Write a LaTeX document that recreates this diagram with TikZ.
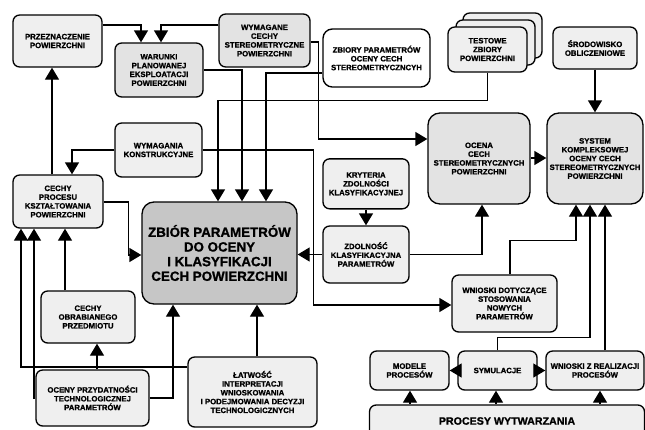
\documentclass[tikz,border=0pt]{standalone}
\usepackage{fontspec}
\setmainfont{Liberation Sans}[BoldFeatures={FakeBold=1.2}]
\usetikzlibrary{positioning,arrows.meta}
\definecolor{lightbox}{HTML}{EFEFEF}
\definecolor{midbox}{HTML}{E3E3E3}
\definecolor{mainbox}{HTML}{C6C6C6}
\tikzset{
    box/.style={draw,line width=1pt,rounded corners=5pt,fill=lightbox,align=center,
        inner sep=1pt,font=\fontsize{5.8}{6.6}\selectfont\bfseries},
    boxsize/.style 2 args={minimum width=#1*0.75pt,minimum height=#2*0.75pt},
    arr/.style={line width=1pt,-{Triangle[length=9pt,width=10.5pt]}}
}

\begin{document}
\begin{tikzpicture}[x=0.75pt,y=-0.75pt,on grid]
    \useasboundingbox (0,0) rectangle (645,429);
    \clip (0,0) rectangle (645,429);

    \node[box,boxsize={89}{52}] (przezn) at (57.5,41) {PRZEZNACZENIE\\POWIERZCHNI};
    \node[box,fill=midbox,boxsize={88}{54}] (warunki) at (159,70) {WARUNKI\\PLANOWANEJ\\EKSPLOATACJI\\POWIERZCHNI};
    \node[box,fill=midbox,boxsize={91}{53}] (wymagane) at (264.5,40.5) {WYMAGANE\\CECHY\\STEREOMETRYCZNE\\POWIERZCHNI};
    \node[box,fill=white,rounded corners=7pt,boxsize={107}{58}] (zbiory) at (376.5,58) {ZBIORY PARAMETRÓW\\OCENY CECH\\STEREOMETRYCZNCYH};
    \node[box,boxsize={79}{45}] (testowe3) at (502.5,35.5) {};
    \node[box,boxsize={79}{45}] (testowe2) at (495.5,42.5) {};
    \node[box,boxsize={79}{45}] (testowe) at (487.5,49.5) {TESTOWE\\ZBIORY\\POWIERZCHNI};
    \node[box,boxsize={84}{42}] (srodowisko) at (595,48) {ŚRODOWISKO\\OBLICZENIOWE};
    \node[box,boxsize={87}{54}] (konstr) at (158.5,150) {WYMAGANIA\\KONSTRUKCYJNE};
    \node[box,boxsize={90}{53}] (ksztalt) at (58,201.5) {CECHY\\PROCESU\\KSZTAŁTOWANIA\\POWIERZCHNI};
    \node[box,fill=mainbox,rounded corners=9pt,boxsize={155}{102},
        font=\fontsize{10}{11}\selectfont\bfseries] (zbior) at (219.5,253) {ZBIÓR PARAMETRÓW\\DO OCENY\\I KLASYFIKACJI\\CECH POWIERZCHNI};
    \node[box,fill=midbox,rounded corners=9pt,boxsize={102}{91}] (ocena) at (479,158.5) {OCENA\\CECH\\STEREOMETRYCZNYCH\\POWIERZCHNI};
    \node[box,fill=midbox,rounded corners=9pt,boxsize={96}{91}] (system) at (595,158.5) {SYSTEM\\KOMPLEKSOWEJ\\OCENY CECH\\STEREOMETRYCZNYCH\\POWIERZCHNI};
    \node[box,boxsize={86}{57}] (zdolnosc) at (366,254.5) {ZDOLNOŚĆ\\KLASYFIKACYJNA\\PARAMETRÓW};
    \node[box,boxsize={86}{50}] (kryteria) [above=53pt of zdolnosc] {KRYTERIA\\ZDOLNOŚCI\\KLASYFIKACYJNEJ};
    \node[box,boxsize={94}{52}] (obrab) at (88,317) {CECHY\\OBRABIANEGO\\PRZEDMIOTU};
    \node[box,boxsize={105}{57}] (wnioskid) at (504.5,303.5) {WNIOSKI DOTYCZĄCE\\STOSOWANIA\\NOWYCH\\PARAMETRÓW};
    \node[box,boxsize={129}{70}] (latwosc) at (252.5,392) {ŁATWOŚĆ\\INTERPRETACJI\\WNIOSKOWANIA\\I PODEJMOWANIA DECYZJI\\TECHNOLOGICZNYCH};
    \node[box,boxsize={113}{56}] (ocenyp) at (92.5,398) {OCENY PRZYDATNOŚCI\\TECHNOLOGICZNEJ\\PARAMETRÓW};
    \node[box,boxsize={79}{39}] (modele) at (409.5,370.5) {MODELE\\PROCESÓW};
    \node[box,boxsize={79}{39}] (symulacje) [right=66pt of modele] {SYMULACJE};
    \node[box,boxsize={98}{39}] (wnioskir) [right=73.1pt of symulacje] {WNIOSKI Z REALIZACJI\\PROCESÓW};
    \node[box,boxsize={275}{32},font=\fontsize{8}{9}\selectfont\bfseries] (procesy) at (507,421) {PROCESY WYTWARZANIA};

    % left column
    \draw[arr] (ksztalt.north -| 52,0) -- (przezn.south -| 52,0);
    \draw[arr] (przezn.east |- 0,25) -| (warunki.north -| 141,0);
    \draw[arr] (wymagane.west |- 0,25) -| (warunki.north -| 161,0);
    \draw[arr] (konstr.west) -| (ksztalt.north -| 72,0);
    \draw[arr] (obrab.north -| 65,0) -- (ksztalt.south -| 65,0);
    \draw[arr] (latwosc.west |- 0,367) -| (ksztalt.south -| 21,0);
    \draw[arr] (ocenyp.west |- 0,398) -| (ksztalt.south -| 34,0);
    \draw[arr] (ocenyp.north -| 97,0) -- (obrab.south -| 97,0);

    % into the main box
    \draw[arr] (warunki.east |- 0,70) -| (zbior.north -| 242,0);
    \draw[arr] (zbiory.west |- 0,73) -| (zbior.north -| 266,0);
    \draw[arr] (testowe.south) -- ++(0,28) -| (zbior.north -| 218,0);
    \draw[arr] (ksztalt.east |- 0,202) -- ++(25,0) |- (zbior.west |- 0,255);
    \draw[arr] (ocenyp.east |- 0,398) -| (zbior.south -| 173,0);
    \draw[arr] (latwosc.north -| 257,0) -- (zbior.south -| 257,0);
    \draw[arr] (zdolnosc.west) -- (zbior.east |- zdolnosc.west);

    % right part
    \draw[arr] (wymagane.east |- 0,42) -- ++(8,0) |- (ocena.west |- 0,139);
    \draw[arr] (konstr.east) -- ++(111,0) |- (wnioskid.west |- 0,305);
    \path[arr] (kryteria) edge (zdolnosc);
    \draw[arr] (zdolnosc.east) -| (ocena.south -| 482,0);
    \draw[arr] (ocena.east |- 0,158) -- (system.west |- 0,158);
    \path[arr] (srodowisko) edge (system);
    \draw[arr] (wnioskid.north -| 510,0) -- ++(0,-34) -| (system.south -| 576,0);
    \draw[arr] (symulacje.north) -- ++(0,-13) -| (system.south -| 590,0);
    \draw[arr] (wnioskir.north -| 605,0) -- (system.south -| 605,0);
    \path[arr] (symulacje) edge (modele)
               (symulacje) edge (wnioskir);
    \draw[arr] (procesy.north -| 410,0) -- (modele.south -| 410,0);
    \draw[arr] (procesy.north -| 496,0) -- (symulacje.south -| 496,0);
    \draw[arr] (procesy.north -| 600,0) -- (wnioskir.south -| 600,0);
\end{tikzpicture}
\end{document}
